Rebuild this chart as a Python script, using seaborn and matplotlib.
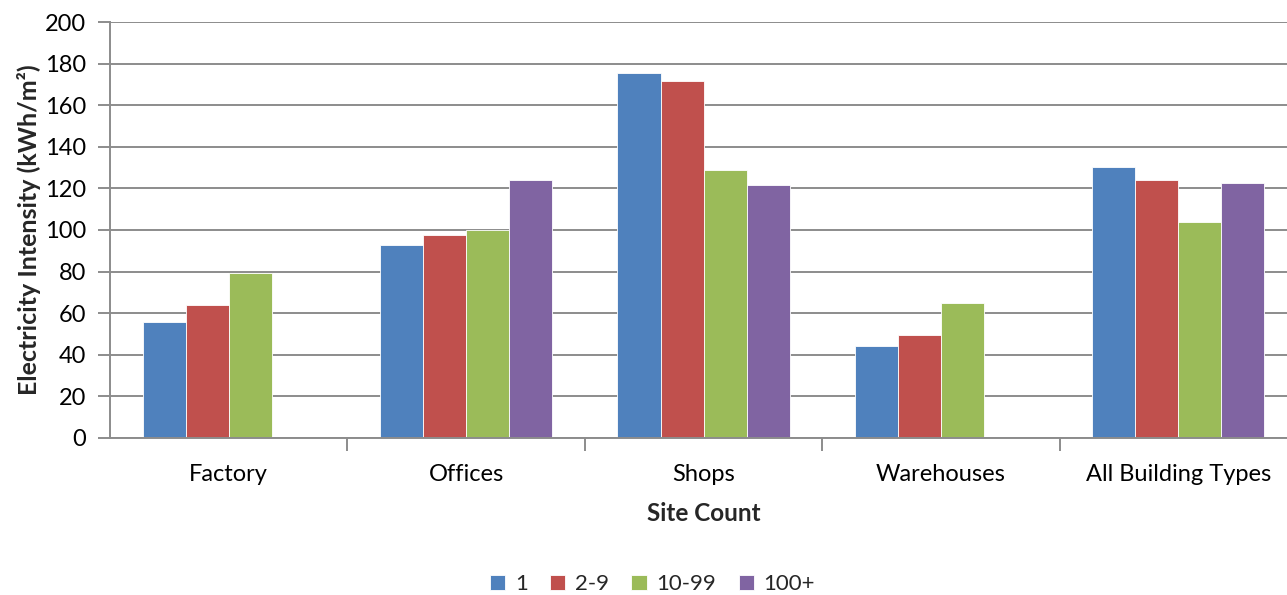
import numpy as np
import pandas as pd
import seaborn as sns
import matplotlib.pyplot as plt
from matplotlib.ticker import FixedLocator, MultipleLocator

categories = ["Factory", "Offices", "Shops", "Warehouses", "All Building Types"]
site_counts = ["1", "2-9", "10-99", "100+"]
values_1 = [55.8, 92.8, 175.5, 44.2, 130.5]
values_2_9 = [64.0, 97.8, 171.4, 49.5, 123.8]
values_10_99 = [79.3, 100.2, 128.6, 65.1, 103.8]
values_100_plus = [np.nan, 124.0, 121.4, np.nan, 122.8]
colors = ["#4F81BD", "#C0504D", "#9BBB59", "#8064A2"]

series = [values_1, values_2_9, values_10_99, values_100_plus]
df = pd.DataFrame(
    [(cat, sc, vals[i]) for sc, vals in zip(site_counts, series)
     for i, cat in enumerate(categories)],
    columns=["Building", "Site Count", "Intensity"],
)

sns.set_theme(style="white")
plt.rcParams["font.family"] = ["Lato", "DejaVu Sans"]

fig = plt.figure(figsize=(12.87, 5.95), dpi=100)
# the plot area runs slightly past the right edge of the canvas
ax = fig.add_axes([0.0855, 0.264, 0.9223, 0.699])

sns.barplot(
    data=df, x="Building", y="Intensity", hue="Site Count",
    order=categories, hue_order=site_counts, palette=colors,
    width=0.725, saturation=1, ax=ax, legend=True,
    edgecolor="white", linewidth=0.6, err_kws={"linewidth": 0},
)

ax.set_ylim(0, 200)
ax.set_xlim(-0.5, len(categories) - 0.5)
ax.yaxis.set_major_locator(MultipleLocator(20))
ax.yaxis.grid(True, color="#8c8c8c", linewidth=1.4)
ax.set_axisbelow(True)

for side in ["top", "right"]:
    ax.spines[side].set_visible(False)
for side in ["left", "bottom"]:
    ax.spines[side].set_color("#8c8c8c")
    ax.spines[side].set_linewidth(1.4)

ax.tick_params(axis="y", which="major", left=True, length=9, width=1.4,
               color="#8c8c8c", labelsize=17, pad=8, labelcolor="black")
ax.tick_params(axis="x", which="major", bottom=False, labelsize=17, pad=13,
               labelcolor="black")
ax.xaxis.set_minor_locator(FixedLocator(np.arange(0.5, len(categories) - 0.5, 1)))
ax.tick_params(axis="x", which="minor", bottom=True, length=9, width=1.4,
               color="#8c8c8c")

ax.set_xlabel("Site Count", fontsize=17.5, fontweight="bold", labelpad=12)
ax.set_ylabel("Electricity Intensity (kWh/m²)", fontsize=18,
              fontweight="bold", labelpad=3)

handles, labels = ax.get_legend_handles_labels()
ax.legend_.remove()
fig.legend(handles, labels, loc="center", bbox_to_anchor=(0.507, 0.018),
           ncol=4, frameon=False, fontsize=16, handlelength=0.68,
           handleheight=0.68, handletextpad=0.45, columnspacing=1.0)

fig.savefig("out.png", dpi=100)
